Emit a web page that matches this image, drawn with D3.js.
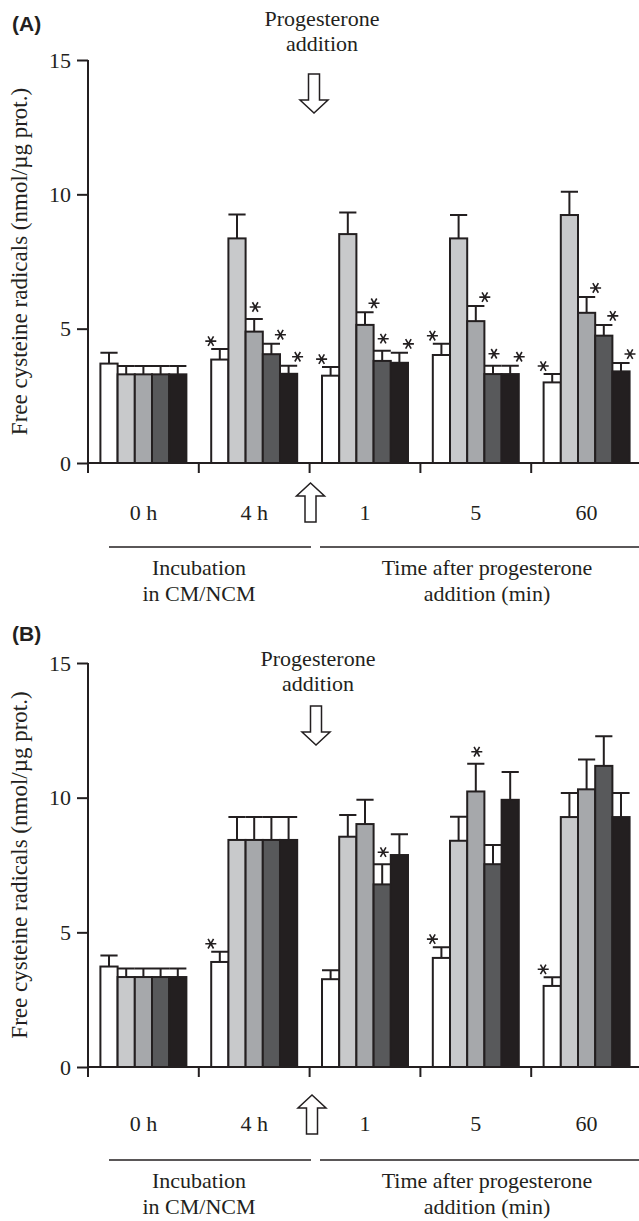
<!DOCTYPE html>
<html lang="en">
  <head>
    <meta charset="UTF-8" />
    <title>Free cysteine radicals</title>
    <script src="https://d3js.org/d3.v7.min.js"></script>
    <style>
      body {
        margin: 0;
        background: #fff;
      }
      svg text {
        font-family: 'Liberation Serif', 'Times New Roman', serif;
        fill: #231f20;
      }
      .panel-tag {
        font-family: 'Liberation Sans', Arial, sans-serif !important;
        font-weight: bold;
      }
      .axis path,
      .axis line {
        stroke: #231f20;
        stroke-width: 2px;
      }
    </style>
  </head>
  <body>
    <div id="chart"></div>
    <script>
      // categories along the x axis
      const groups = ['0 h', '4 h', '1', '5', '60'];
      // five series: white, light grey, mid grey, dark grey, black
      const seriesFill = ['#ffffff', '#c8c9cb', '#a6a8ab', '#58595b', '#231f20'];
      const yTicks = [0, 5, 10, 15];

      // panel A: means and error (SEM), rows = series, cols = groups
      const meansA = [
        [3.7, 3.85, 3.25, 4.02, 3.0],
        [3.3, 8.36, 8.52, 8.36, 9.23],
        [3.3, 4.89, 5.14, 5.28, 5.59],
        [3.3, 4.05, 3.8, 3.31, 4.74],
        [3.3, 3.32, 3.73, 3.31, 3.41],
      ];
      const errA = [
        [0.4, 0.39, 0.32, 0.42, 0.31],
        [0.31, 0.89, 0.8, 0.87, 0.87],
        [0.31, 0.47, 0.47, 0.56, 0.59],
        [0.31, 0.39, 0.38, 0.31, 0.4],
        [0.31, 0.3, 0.37, 0.31, 0.31],
      ];
      // significance marks: [group, series, side]
      const starsA = [
        [1, 0, 'l'], [1, 2, 't'], [1, 3, 'r'], [1, 4, 'r'],
        [2, 0, 'l'], [2, 2, 'r'], [2, 3, 't'], [2, 4, 'r'],
        [3, 0, 'l'], [3, 2, 'r'], [3, 3, 't'], [3, 4, 'r'],
        [4, 0, 'l'], [4, 2, 'r'], [4, 3, 'r'], [4, 4, 'r'],
      ];

      // panel B
      const meansB = [
        [3.73, 3.9, 3.26, 4.05, 3.01],
        [3.34, 8.43, 8.55, 8.4, 9.28],
        [3.34, 8.43, 9.02, 10.23, 10.31],
        [3.34, 8.43, 6.78, 7.53, 11.18],
        [3.34, 8.43, 7.87, 9.92, 9.28],
      ];
      const errB = [
        [0.41, 0.38, 0.33, 0.4, 0.32],
        [0.32, 0.85, 0.81, 0.89, 0.89],
        [0.32, 0.85, 0.9, 1.03, 1.11],
        [0.32, 0.85, 0.75, 0.71, 1.1],
        [0.32, 0.85, 0.77, 1.03, 0.89],
      ];
      const starsB = [
        [1, 0, 'l'], [2, 3, 't'], [3, 0, 'l'], [3, 2, 't'], [4, 0, 'l'],
      ];

      const W = 639,
        H = 1221;
      const svg = d3
        .select('#chart')
        .append('svg')
        .attr('width', W)
        .attr('height', H);

      const axisX = 88;
      const x = d3
        .scaleBand()
        .domain(groups)
        .range([axisX, 642])
        .paddingInner(0.224)
        .paddingOuter(0.112);
      const xs = d3
        .scaleBand()
        .domain(d3.range(5))
        .range([0, x.bandwidth()]);

      const starOffset = { l: [-9, -8], t: [1, -12], r: [9, -9] };
      const starPath = d3.symbol(d3.symbolAsterisk, 85)();

      function blockArrow(cx, tipY, dir) {
        // dir = 1 points down, -1 points up
        const sw = 5.5, hw = 14, len = 39, head = 13;
        const p = (dx, dy) => [cx + dx, tipY + dir * dy];
        return d3.line()([
          p(-sw, 0), p(sw, 0), p(sw, len - head), p(hw, len - head),
          p(0, len), p(-hw, len - head), p(-sw, len - head),
        ]) + 'Z';
      }

      function drawPanel(cfg) {
        const g = svg.append('g');
        const y = d3.scaleLinear().domain([0, 15]).range([cfg.base, cfg.top]);

        // panel tag
        g.append('text')
          .attr('class', 'panel-tag')
          .attr('x', 12)
          .attr('y', cfg.tagY)
          .style('font-size', '21px')
          .text(cfg.tag);

        // y axis label
        g.append('text')
          .attr('transform', `translate(27,${(cfg.top + cfg.base) / 2}) rotate(-90)`)
          .attr('text-anchor', 'middle')
          .style('font-size', '23px')
          .text('Free cysteine radicals (nmol/\u00b5g prot.)');

        // bars
        const bars = [];
        cfg.means.forEach((row, s) =>
          row.forEach((v, i) => bars.push({ g: groups[i], s, v, e: cfg.err[s][i] }))
        );
        const bx = (d) => x(d.g) + xs(d.s);
        const bw = xs.bandwidth();

        g.selectAll('.err')
          .data(bars)
          .enter()
          .append('path')
          .attr('fill', 'none')
          .attr('stroke', '#231f20')
          .attr('stroke-width', 2)
          .attr('d', (d) => {
            const cx = bx(d) + bw / 2, yt = y(d.v + d.e);
            return `M${cx},${y(d.v)}V${yt}M${bx(d)},${yt}H${bx(d) + bw}`;
          });

        g.selectAll('.bar')
          .data(bars)
          .enter()
          .append('rect')
          .attr('x', bx)
          .attr('y', (d) => y(d.v))
          .attr('width', bw)
          .attr('height', (d) => y(0) - y(d.v))
          .attr('fill', (d) => seriesFill[d.s])
          .attr('stroke', '#231f20')
          .attr('stroke-width', 2);

        // significance stars
        g.selectAll('.star')
          .data(cfg.stars)
          .enter()
          .append('path')
          .attr('d', starPath)
          .attr('fill', 'none')
          .attr('stroke', '#231f20')
          .attr('stroke-width', 1.6)
          .attr('transform', ([gi, s, side]) => {
            const sx = x(groups[gi]) + xs(s) + bw / 2 + starOffset[side][0];
            const sy = y(cfg.means[s][gi] + cfg.err[s][gi]) + starOffset[side][1];
            return `translate(${sx},${sy}) rotate(90)`;
          });

        // axes
        g.append('g')
          .attr('class', 'axis')
          .attr('transform', `translate(${axisX},0)`)
          .call(d3.axisLeft(y).tickValues(yTicks).tickSize(11).tickSizeOuter(0).tickPadding(6))
          .call((a) => a.selectAll('text').style('font-size', '22px').attr('fill', '#231f20'))
          .call((a) => a.select('.domain').attr('d', `M0,${cfg.top}V${cfg.base + 10}`));

        g.append('line')
          .attr('x1', axisX)
          .attr('x2', W)
          .attr('y1', cfg.base)
          .attr('y2', cfg.base)
          .attr('stroke', '#231f20')
          .attr('stroke-width', 2);

        const bounds = groups.map((d) => x(d) - x.step() * x.paddingOuter());
        bounds.push(x(groups[4]) + x.bandwidth() + x.step() * x.paddingOuter());
        g.selectAll('.xtick')
          .data(bounds)
          .enter()
          .append('line')
          .attr('x1', (d) => d)
          .attr('x2', (d) => d)
          .attr('y1', cfg.base)
          .attr('y2', cfg.base + 10)
          .attr('stroke', '#231f20')
          .attr('stroke-width', 2);

        // category labels
        g.selectAll('.cat')
          .data(groups)
          .enter()
          .append('text')
          .attr('text-anchor', 'middle')
          .attr('x', (d) => x(d) + x.bandwidth() / 2)
          .attr('y', cfg.catY)
          .style('font-size', '22px')
          .text((d) => d);

        // progesterone addition arrows
        g.append('text')
          .attr('text-anchor', 'middle')
          .style('font-size', '22px')
          .selectAll('tspan')
          .data(['Progesterone', 'addition'])
          .enter()
          .append('tspan')
          .attr('x', cfg.noteX)
          .attr('y', (d, i) => cfg.noteY + i * 25)
          .text((d) => d);

        g.append('path')
          .attr('d', blockArrow(cfg.downX, cfg.downTop, 1))
          .attr('fill', '#fff')
          .attr('stroke', '#231f20')
          .attr('stroke-width', 1.5);

        g.append('path')
          .attr('d', blockArrow(cfg.upX, cfg.upTip + 39, -1))
          .attr('fill', '#fff')
          .attr('stroke', '#231f20')
          .attr('stroke-width', 1.5);

        // brackets and captions
        const brackets = [
          { x1: 109, x2: 311, cx: 199, lines: ['Incubation', 'in CM/NCM'] },
          { x1: 320, x2: W, cx: 487, lines: ['Time after progesterone', 'addition (min)'] },
        ];
        brackets.forEach((b) => {
          g.append('line')
            .attr('x1', b.x1)
            .attr('x2', b.x2)
            .attr('y1', cfg.lineY)
            .attr('y2', cfg.lineY)
            .attr('stroke', '#231f20')
            .attr('stroke-width', 1.5);
          g.append('text')
            .attr('text-anchor', 'middle')
            .style('font-size', '22px')
            .selectAll('tspan')
            .data(b.lines)
            .enter()
            .append('tspan')
            .attr('x', b.cx)
            .attr('y', (d, i) => cfg.lineY + 28 + i * 26)
            .text((d) => d);
        });
      }

      drawPanel({
        tag: '(A)', tagY: 31, top: 60, base: 463,
        means: meansA, err: errA, stars: starsA,
        noteX: 322, noteY: 26, downX: 314, downTop: 74,
        upX: 310.5, upTip: 483, catY: 520, lineY: 547,
      });
      drawPanel({
        tag: '(B)', tagY: 641, top: 663, base: 1067,
        means: meansB, err: errB, stars: starsB,
        noteX: 318, noteY: 666, downX: 316, downTop: 706,
        upX: 312, upTip: 1095, catY: 1131, lineY: 1160,
      });
    </script>
  </body>
</html>
